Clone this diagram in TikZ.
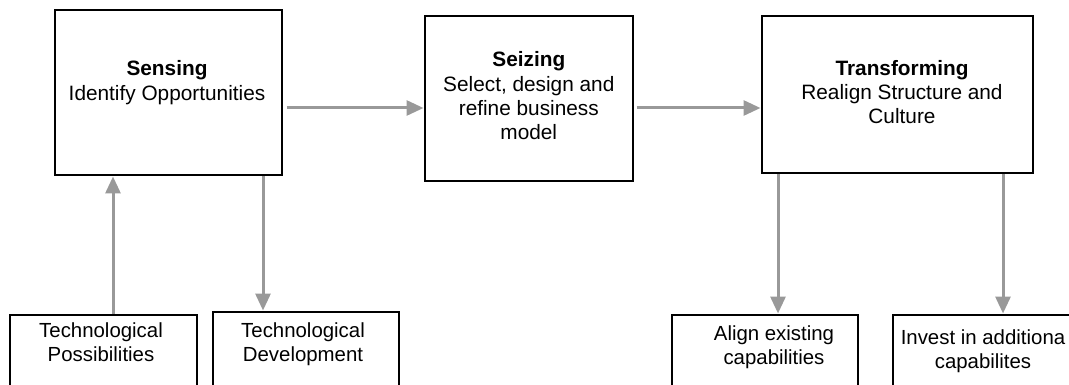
\documentclass[tikz,border=0pt]{standalone}
\usepackage{fontspec}
\setmainfont{Liberation Sans}
\usetikzlibrary{arrows.meta}

\tikzset{
  box/.style={draw=black, line width=2pt, fill=white, inner sep=0pt, rectangle},
  toptext/.style={anchor=north, align=center, inner sep=0pt,
    font=\fontsize{20.8}{24.2}\selectfont},
  lowtext/.style={anchor=north, align=center, inner sep=0pt,
    font=\fontsize{20.4}{23.5}\selectfont},
  arr/.style={draw=black!40, line width=3pt,
    -{Triangle[length=17pt, width=15pt]}},
}

\begin{document}
\begin{tikzpicture}[x=1pt, y=-1pt]
  \useasboundingbox (0,0) rectangle (1069,385);
  \clip (0,0) rectangle (1069,385);

  % main capability boxes
  \node[box, minimum width=227pt, minimum height=165pt] (sens) at (168,93) {};
  \node[box, minimum width=208pt, minimum height=165pt] (seiz) at (528.5,99) {};
  \node[box, minimum width=271pt, minimum height=157pt] (trans) at (897,95) {};

  \node[toptext] (senstxt) at (167,60.7) {\textbf{Sensing}\\Identify Opportunities};
  \node[toptext] (seiztxt) at (528.8,51.7) {\textbf{Seizing}\\Select, design and\\refine business\\model};
  \node[toptext] (transtxt) at (902,60) {\textbf{Transforming}\\Realign Structure and\\Culture};

  % lower boxes (run past the lower edge)
  \node[box, minimum width=187pt, minimum height=110pt, anchor=north] (poss) at (103.5,313.5) {};
  \node[box, minimum width=186pt, minimum height=110pt, anchor=north] (dev) at (306,310.5) {};
  \node[box, minimum width=186pt, minimum height=110pt, anchor=north] (align) at (765,313.5) {};
  \node[box, minimum width=186pt, minimum height=110pt, anchor=north] (invest) at (986,313.5) {};

  \node[lowtext] (posstxt) at (101,323) {Technological\\Possibilities};
  \node[lowtext] (devtxt) at (303,323) {Technological\\Development};
  \node[lowtext] (aligntxt) at (774,326) {Align existing\\capabilities};
  \node[lowtext] (investtxt) at (983,330) {Invest in additiona\\capabilites};

  % connectors
  \draw[arr, shorten <=4pt] (sens.east |- 0,108) -- (seiz.west |- 0,108);
  \draw[arr, shorten <=3pt] (seiz.east |- 0,108) -- (trans.west |- 0,108);
  \draw[arr] ([xshift=9.5pt]poss.north) -- ([xshift=9.5pt]poss.north |- sens.south);
  \draw[arr] ([xshift=-43pt]dev.north |- sens.south) -- ([xshift=-43pt]dev.north);
  \draw[arr] ([xshift=13pt]align.north |- trans.south) -- ([xshift=13pt]align.north);
  \draw[arr] ([xshift=17pt]invest.north |- trans.south) -- ([xshift=17pt]invest.north);
\end{tikzpicture}
\end{document}
